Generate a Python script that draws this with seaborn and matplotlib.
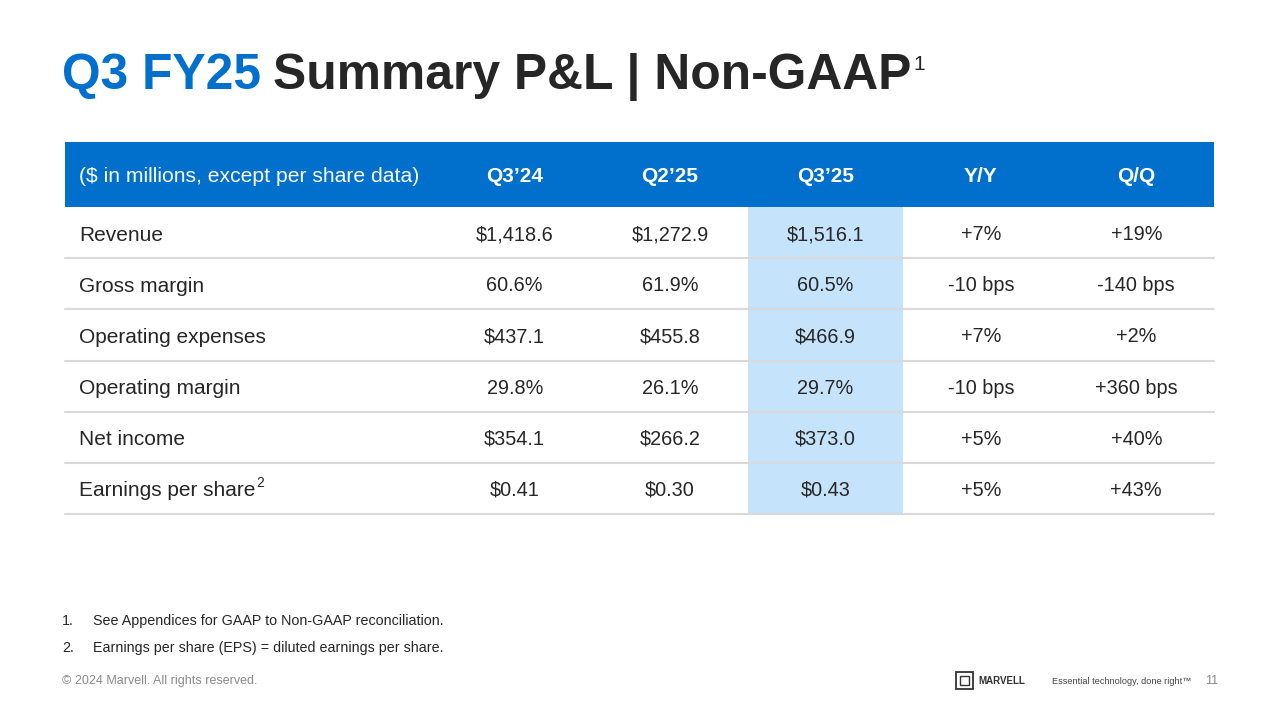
import numpy as np
import pandas as pd
import matplotlib
matplotlib.use('Agg')
import matplotlib.pyplot as plt
from matplotlib.colors import ListedColormap
import seaborn as sns

sns.set_style('white')
plt.rcParams['font.family'] = ['Liberation Sans', 'DejaVu Sans']

# Dữ liệu bảng
row_labels = ['Revenue', 'Gross margin', 'Operating expenses', 'Operating margin',
              'Net income', 'Earnings per share']
periods = ['Q3\u201924', 'Q2\u201925', 'Q3\u201925', 'Y/Y', 'Q/Q']
q3_24 = ['$1,418.6', '60.6%', '$437.1', '29.8%', '$354.1', '$0.41']
q2_25 = ['$1,272.9', '61.9%', '$455.8', '26.1%', '$266.2', '$0.30']
q3_25 = ['$1,516.1', '60.5%', '$466.9', '29.7%', '$373.0', '$0.43']
yoy = ['+7%', '-10 bps', '+7%', '-10 bps', '+5%', '+5%']
qoq = ['+19%', '-140 bps', '+2%', '+360 bps', '+40%', '+43%']
highlight_col = 'Q3\u201925'

BLUE = '#0070cc'
DARK = '#262626'
HILITE = '#c5e3fb'

df = pd.DataFrame({periods[0]: q3_24, periods[1]: q2_25, periods[2]: q3_25,
                   periods[3]: yoy, periods[4]: qoq}, index=row_labels)
flags = pd.DataFrame(0, index=df.index, columns=df.columns)
flags[highlight_col] = 1

W, H = 1280, 720
fig = plt.figure(figsize=(12.8, 7.2), dpi=100)

# Vùng bảng (pixel)
x0, x_lab, x1 = 65, 437, 1214
y_head, y_top, y_bot = 142, 207, 514
row_h = (y_bot - y_top) / len(row_labels)

# Heatmap cho phần dữ liệu
hx = fig.add_axes([x_lab / W, 1 - y_bot / H, (x1 - x_lab) / W, (y_bot - y_top) / H])
sns.heatmap(flags, ax=hx, cmap=ListedColormap(['white', HILITE]), vmin=0, vmax=1,
            cbar=False, annot=df.values, fmt='',
            annot_kws={'fontsize': 14.3, 'color': DARK})
hx.set_xticks([])
hx.set_yticks([])
hx.set_xlabel('')
hx.set_ylabel('')
for t in hx.texts:
    x, y = t.get_position()
    t.set_position((x, y + 0.04))

# Lớp phủ toàn slide theo tọa độ pixel
ax = fig.add_axes([0, 0, 1, 1], zorder=5)
ax.set_xlim(0, W)
ax.set_ylim(H, 0)
ax.axis('off')
ax.patch.set_alpha(0)

# Tiêu đề
fig.canvas.draw()
r = fig.canvas.get_renderer()
t1 = ax.text(62, 89, 'Q3 FY25', fontsize=35.8, fontweight='bold', color=BLUE, va='baseline')
bb = t1.get_window_extent(r)
t2 = ax.text(bb.x1 + 12, 89, 'Summary P&L | Non-GAAP', fontsize=35.8, fontweight='bold',
             color=DARK, va='baseline')
bb2 = t2.get_window_extent(r)
ax.text(bb2.x1 + 2, 70, '1', fontsize=15, color=DARK, va='baseline')

# Header
ax.add_patch(plt.Rectangle((x0, y_head), x1 - x0, y_top - y_head, color=BLUE, lw=0))
ax.text(79, 176, '($ in millions, except per share data)', fontsize=15.2, color='white',
        va='center')
col_w = (x1 - x_lab) / len(periods)
for i, p in enumerate(periods):
    ax.text(x_lab + col_w * (i + 0.5), 176, p, fontsize=15, fontweight='bold',
            color='white', va='center', ha='center')

# Nhãn dòng + đường kẻ
for i, lab in enumerate(row_labels):
    yc = y_top + row_h * (i + 0.55)
    t = ax.text(79, yc, lab, fontsize=15, color=DARK, va='center')
    if lab == 'Earnings per share':
        tb = t.get_window_extent(r)
        ax.text(tb.x1 + 1, yc - 8, '2', fontsize=10, color=DARK, va='center')
    ax.plot([x0, x1], [y_top + row_h * (i + 1)] * 2, color='#d9d9d9', lw=1.5)

# Chú thích
ax.text(62, 621, '1.', fontsize=10.3, color=DARK, va='center')
ax.text(93, 621, 'See Appendices for GAAP to Non-GAAP reconciliation.', fontsize=10.3,
        color=DARK, va='center')
ax.text(62, 648, '2.', fontsize=10.3, color=DARK, va='center')
ax.text(93, 648, 'Earnings per share (EPS) = diluted earnings per share.', fontsize=10.3,
        color=DARK, va='center')
ax.text(62, 681, '\u00a9 2024 Marvell. All rights reserved.', fontsize=9, color='#8a8a8a',
        va='center')

# Logo
ax.add_patch(plt.Rectangle((956, 672), 17, 17, fill=False, ec='#333333', lw=1.3))
ax.add_patch(plt.Rectangle((960, 676), 9, 9, fill=False, ec='#333333', lw=1.0))
ax.text(978, 681, 'MARVELL', fontsize=7, color='#333333', va='center', fontweight='bold')
ax.text(1052, 681, 'Essential technology, done right\u2122', fontsize=6.6, color='#444444',
        va='center')
ax.text(1205, 681, '11', fontsize=9, color='#8a8a8a', va='center')

fig.savefig('out.png', dpi=100)
